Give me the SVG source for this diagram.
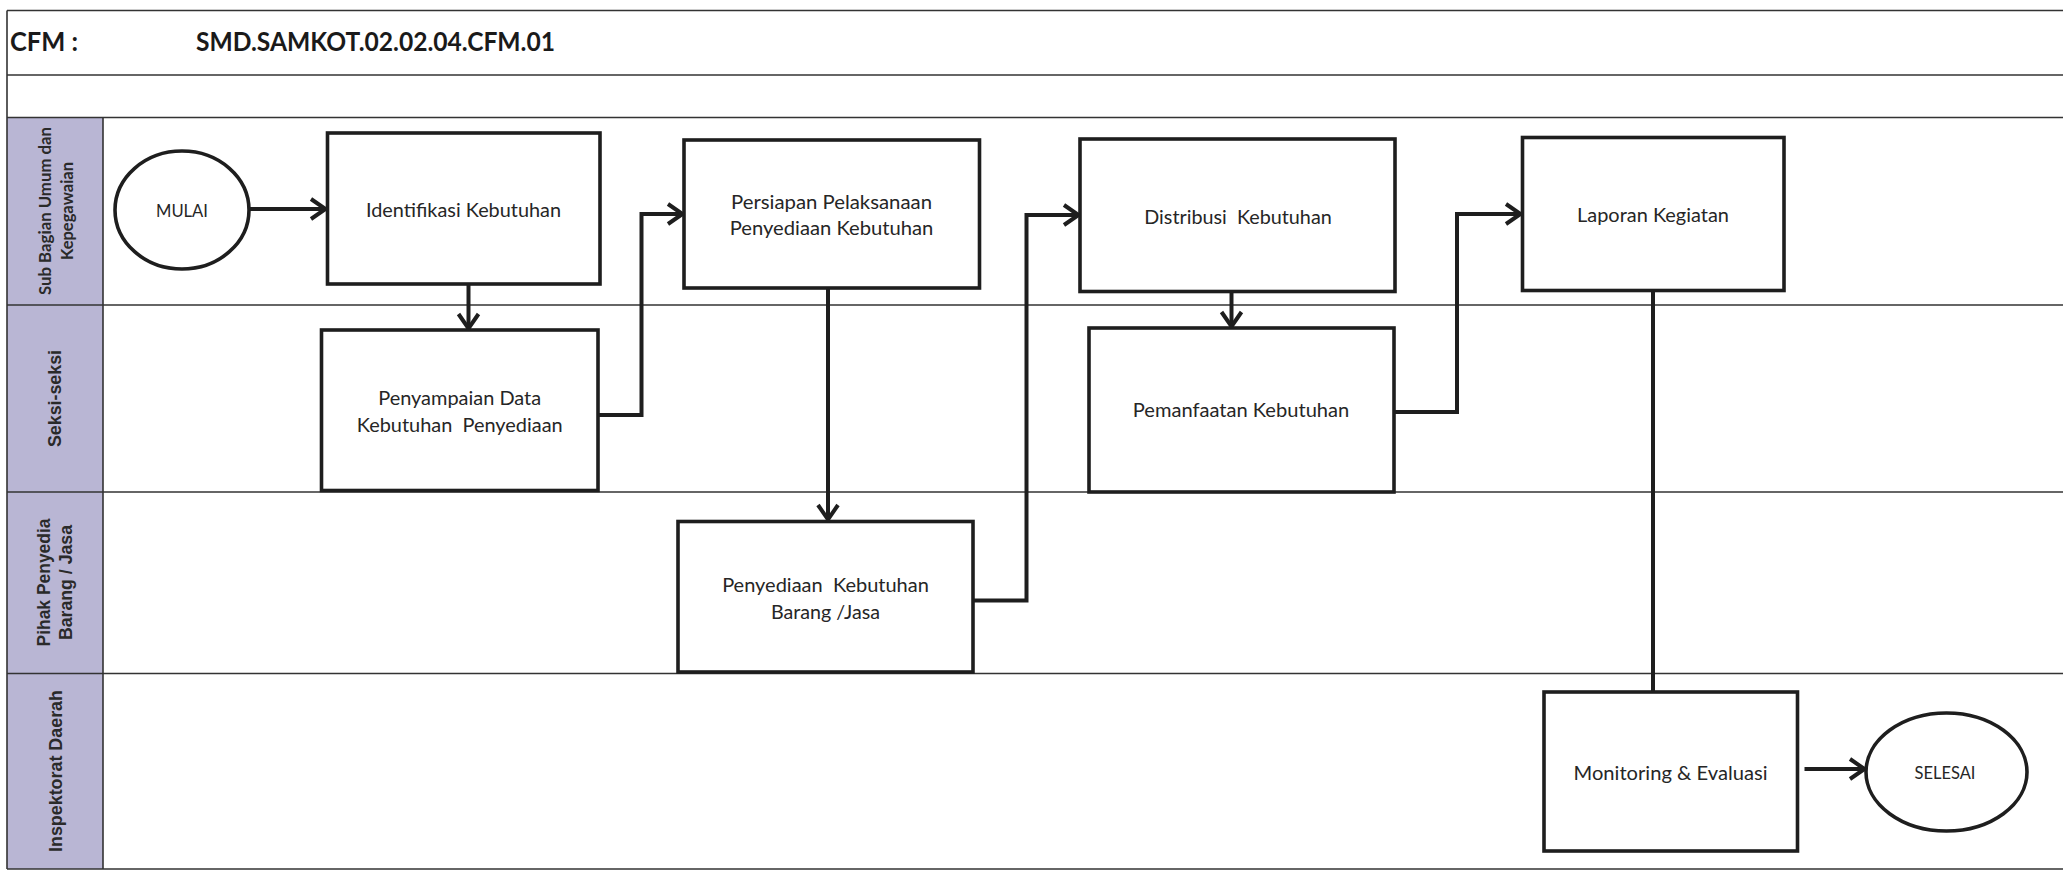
<svg xmlns="http://www.w3.org/2000/svg" width="2063" height="873" viewBox="0 0 2063 873">
<style>
.grid{stroke:#333;stroke-width:1.6;fill:none}
.box{fill:#fff;stroke:#1e1e1e;stroke-width:3.6}
.conn{fill:none;stroke:#1e1e1e;stroke-width:4;stroke-linejoin:miter}
.t{font-family:Lato,"Liberation Sans",sans-serif;font-size:19.5px;fill:#262626;text-anchor:middle}
.ts{font-family:Lato,"Liberation Sans",sans-serif;font-size:18px;fill:#262626;text-anchor:middle}
.title{font-family:Lato,"Liberation Sans",sans-serif;font-size:26px;font-weight:bold;fill:#1a1a1a}
.lane{font-family:"Liberation Sans",Arial,sans-serif;font-size:18px;font-weight:bold;fill:#2a2a2a;text-anchor:middle}
.lane1{font-family:Lato,"Liberation Sans",sans-serif;font-size:17px;font-weight:bold;fill:#2a2a2a;text-anchor:middle}
</style>
<defs>
<marker id="arr" markerUnits="userSpaceOnUse" markerWidth="30" markerHeight="30" viewBox="-20 -15 30 30" refX="0" refY="0" orient="auto" overflow="visible">
<path d="M-16,-10 L-1.5,0 L-16,10" fill="none" stroke="#1e1e1e" stroke-width="4"/>
</marker>
</defs>
<rect x="0" y="0" width="2063" height="873" fill="#fff"/>
<g id="table">
<rect x="7" y="117.5" width="96" height="751.5" fill="#B9B6D4"/>
<line class="grid" x1="7" y1="10.5" x2="2063" y2="10.5"/>
<line class="grid" x1="7" y1="75" x2="2063" y2="75"/>
<line class="grid" x1="7" y1="117.5" x2="2063" y2="117.5"/>
<line class="grid" x1="7" y1="305" x2="2063" y2="305"/>
<line class="grid" x1="7" y1="492" x2="2063" y2="492"/>
<line class="grid" x1="7" y1="673.5" x2="2063" y2="673.5"/>
<line class="grid" x1="7" y1="869" x2="2063" y2="869"/>
<line class="grid" x1="7" y1="10.5" x2="7" y2="869"/>
<line class="grid" x1="103" y1="117.5" x2="103" y2="869"/>
<text class="title" x="10" y="51" textLength="68" lengthAdjust="spacingAndGlyphs">CFM :</text>
<text class="title" x="196" y="51" textLength="359" lengthAdjust="spacingAndGlyphs">SMD.SAMKOT.02.02.04.CFM.01</text>
<text class="lane1" transform="translate(50.5,211) rotate(-90)" textLength="168" lengthAdjust="spacingAndGlyphs">Sub Bagian Umum dan</text>
<text class="lane1" transform="translate(72.5,211) rotate(-90)" textLength="98" lengthAdjust="spacingAndGlyphs">Kepegawaian</text>
<text class="lane" transform="translate(61,398.5) rotate(-90)" textLength="97" lengthAdjust="spacingAndGlyphs">Seksi-seksi</text>
<text class="lane" transform="translate(49.5,582.5) rotate(-90)" textLength="128" lengthAdjust="spacingAndGlyphs">Pihak Penyedia</text>
<text class="lane" transform="translate(71.5,582.5) rotate(-90)" textLength="115" lengthAdjust="spacingAndGlyphs">Barang / Jasa</text>
<text class="lane" transform="translate(61.5,771) rotate(-90)" textLength="162" lengthAdjust="spacingAndGlyphs">Inspektorat Daerah</text>
</g>
<g id="connectors">
<path class="conn" d="M249,209 H327" marker-end="url(#arr)"/>
<path class="conn" d="M468.5,284 V330" marker-end="url(#arr)"/>
<path class="conn" d="M598,415 H641.5 V214 H684" marker-end="url(#arr)"/>
<path class="conn" d="M828,288 V521" marker-end="url(#arr)"/>
<path class="conn" d="M973,600.5 H1026.5 V215 H1080" marker-end="url(#arr)"/>
<path class="conn" d="M1231.5,291.5 V328" marker-end="url(#arr)"/>
<path class="conn" d="M1394,412 H1457 V214 H1522" marker-end="url(#arr)"/>
<path class="conn" d="M1653,290 V692"/>
<path class="conn" d="M1804.5,769 H1866" marker-end="url(#arr)"/>
</g>
<g id="n_mulai">
<ellipse class="box" cx="182" cy="210" rx="67" ry="59"/>
<text class="ts" x="182" y="217" textLength="52" lengthAdjust="spacingAndGlyphs">MULAI</text>
</g>
<g id="n_identifikasi">
<rect class="box" x="327.5" y="133" width="272.5" height="151"/>
<text class="t" x="463.5" y="217" textLength="195" lengthAdjust="spacingAndGlyphs">Identifikasi Kebutuhan</text>
</g>
<g id="n_penyampaian">
<rect class="box" x="321.5" y="330" width="276.5" height="160.5"/>
<text class="t" x="459.7" y="405" textLength="163" lengthAdjust="spacingAndGlyphs">Penyampaian Data</text>
<text class="t" x="459.7" y="432" textLength="206" lengthAdjust="spacingAndGlyphs" xml:space="preserve">Kebutuhan  Penyediaan</text>
</g>
<g id="n_persiapan">
<rect class="box" x="684" y="140" width="295.5" height="148"/>
<text class="t" x="831.5" y="208.5" textLength="201" lengthAdjust="spacingAndGlyphs">Persiapan Pelaksanaan</text>
<text class="t" x="831.5" y="235" textLength="203.5" lengthAdjust="spacingAndGlyphs">Penyediaan Kebutuhan</text>
</g>
<g id="n_penyediaan">
<rect class="box" x="678" y="521.5" width="295" height="150.5"/>
<text class="t" x="825.5" y="592" textLength="206.7" lengthAdjust="spacingAndGlyphs" xml:space="preserve">Penyediaan  Kebutuhan</text>
<text class="t" x="825.5" y="618.5" textLength="109" lengthAdjust="spacingAndGlyphs">Barang /Jasa</text>
</g>
<g id="n_distribusi">
<rect class="box" x="1080" y="139" width="315" height="152.5"/>
<text class="t" x="1238" y="223.5" textLength="187.5" lengthAdjust="spacingAndGlyphs" xml:space="preserve">Distribusi  Kebutuhan</text>
</g>
<g id="n_pemanfaatan">
<rect class="box" x="1089" y="328" width="305" height="164"/>
<text class="t" x="1241" y="417" textLength="216.5" lengthAdjust="spacingAndGlyphs">Pemanfaatan Kebutuhan</text>
</g>
<g id="n_laporan">
<rect class="box" x="1522.5" y="137.5" width="261.5" height="153"/>
<text class="t" x="1653" y="222" textLength="152" lengthAdjust="spacingAndGlyphs">Laporan Kegiatan</text>
</g>
<g id="n_monitoring">
<rect class="box" x="1544" y="692" width="253.5" height="159"/>
<text class="t" x="1670.5" y="779.5" textLength="194" lengthAdjust="spacingAndGlyphs">Monitoring &amp; Evaluasi</text>
</g>
<g id="n_selesai">
<ellipse class="box" cx="1946.5" cy="772" rx="80.5" ry="59"/>
<text class="ts" x="1945" y="779" textLength="61" lengthAdjust="spacingAndGlyphs">SELESAI</text>
</g>
</svg>
